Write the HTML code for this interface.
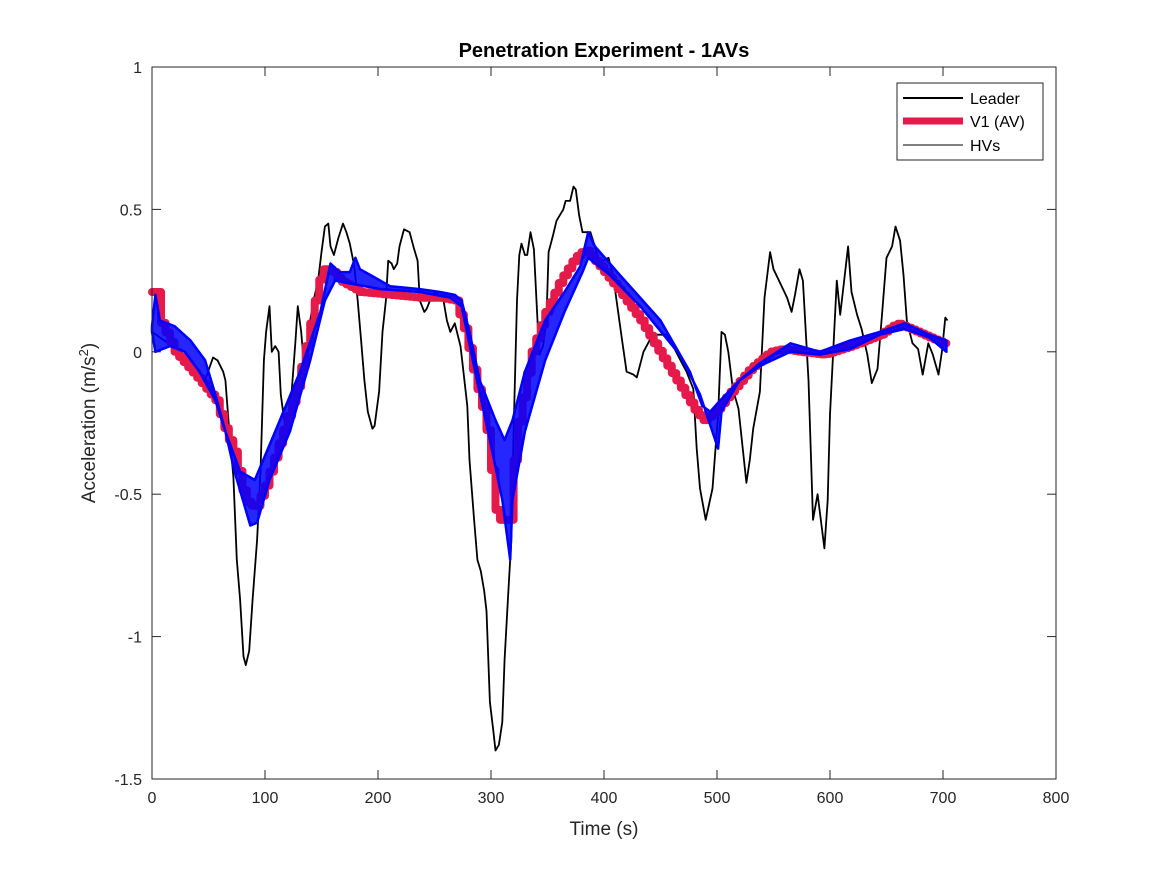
<!DOCTYPE html>
<html><head><meta charset="utf-8"><style>
body{margin:0;background:#fff;}
svg{display:block;font-family:"Liberation Sans",Arial,sans-serif;}
</style></head><body>
<svg id="chart" width="1167" height="875" viewBox="0 0 1167 875">
<rect width="1167" height="875" fill="#fff"/>
<text x="604" y="57" text-anchor="middle" font-size="20" font-weight="bold" fill="#000">Penetration Experiment - 1AVs</text>
<g id="plot"></g>
<g id="axes"></g>
<text x="604" y="835" text-anchor="middle" font-size="19" fill="#262626">Time (s)</text>
<text transform="translate(95,423) rotate(-90)" text-anchor="middle" font-size="19" fill="#262626">Acceleration (m/s<tspan font-size="13" dy="-7">2</tspan><tspan dy="7">)</tspan></text>
<g>
<rect x="897" y="83" width="146" height="77" fill="#fff" stroke="#262626" stroke-width="1"/>
<g><line x1="903" y1="98" x2="963" y2="98" stroke="#000" stroke-width="2"/><text x="970" y="104" font-size="16">Leader</text></g>
<g><line x1="903" y1="121" x2="963" y2="121" stroke="#e6194b" stroke-width="7"/><text x="970" y="127" font-size="16">V1 (AV)</text></g>
<g><line x1="903" y1="145" x2="963" y2="145" stroke="#000" stroke-width="1"/><text x="970" y="151" font-size="16">HVs</text></g>
</g>
</svg>
<script>
const xTicks=[0,100,200,300,400,500,600,700,800];
const yTicks=[1,0.5,0,-0.5,-1,-1.5];
const yTickLabels=["1","0.5","0","-0.5","-1","-1.5"];
const leaderT=[0,25,47,54,58,63,65,69,72,75,78,81,83,86,89,93,96,99,101,104,106,109,112,114,117,121,127,129,132,135,140,143,147,150,153,156,158,161,165,169,172,175,179,182,185,188,191,195,197,201,204,207,209,212,214,217,219,223,228,232,235,237,241,243,246,250,254,258,261,264,268,273,275,279,281,285,288,291,294,296,299,302,304,307,310,312,315,318,320,323,325,327,330,332,335,338,342,343,346,349,351,355,358,361,364,366,370,373,375,378,381,388,395,399,404,408,416,420,426,429,435,443,456,465,473,479,482,485,490,496,501,504,507,510,514,519,526,529,532,538,542,547,550,556,562,566,569,573,576,581,585,589,595,598,600,606,609,616,619,624,628,633,637,642,646,650,655,658,662,665,668,673,678,682,687,691,696,699,702,704];
const leaderV=[0.07,0.00,-0.10,-0.02,-0.03,-0.07,-0.10,-0.31,-0.44,-0.73,-0.87,-1.07,-1.10,-1.05,-0.87,-0.66,-0.42,-0.03,0.07,0.16,0.00,0.02,0.00,-0.15,-0.24,-0.28,0.04,0.16,0.07,-0.07,0.11,0.18,0.25,0.35,0.44,0.45,0.37,0.34,0.40,0.45,0.42,0.38,0.30,0.18,0.04,-0.10,-0.21,-0.27,-0.26,-0.14,0.07,0.18,0.32,0.31,0.29,0.31,0.37,0.43,0.42,0.36,0.32,0.18,0.14,0.15,0.18,0.21,0.20,0.18,0.11,0.07,0.10,0.02,-0.05,-0.19,-0.38,-0.59,-0.73,-0.77,-0.84,-0.91,-1.23,-1.33,-1.40,-1.38,-1.30,-1.08,-0.87,-0.66,-0.28,0.18,0.34,0.38,0.34,0.34,0.42,0.36,0.04,-0.01,0.02,0.11,0.35,0.41,0.46,0.48,0.50,0.53,0.53,0.58,0.57,0.48,0.42,0.42,0.33,0.32,0.33,0.27,0.04,-0.07,-0.08,-0.09,0.00,0.06,0.06,-0.01,-0.07,-0.13,-0.34,-0.48,-0.59,-0.48,-0.22,0.07,0.06,0.00,-0.13,-0.20,-0.46,-0.38,-0.27,-0.14,0.19,0.35,0.29,0.24,0.19,0.14,0.20,0.29,0.25,-0.10,-0.59,-0.50,-0.69,-0.52,-0.22,0.25,0.13,0.37,0.21,0.13,0.08,-0.01,-0.11,-0.06,0.13,0.33,0.37,0.44,0.39,0.27,0.11,0.03,0.01,-0.08,0.03,-0.01,-0.08,0.00,0.12,0.11];
const avT=[0,4,7,20,42,56,65,72,82,91,100,113,127,135,144,150,158,166,184,211,237,255,268,277,286,295,305,311,317,321,335,348,361,374,383,396,414,432,450,467,481,488,498,512,529,547,558,573,594,618,644,659,671,688,700,703];
const avV=[0.21,0.21,0.11,0.00,-0.10,-0.17,-0.28,-0.35,-0.52,-0.55,-0.47,-0.31,-0.14,0.00,0.18,0.29,0.29,0.25,0.21,0.20,0.19,0.19,0.18,0.07,-0.10,-0.24,-0.59,-0.59,-0.59,-0.31,-0.01,0.14,0.25,0.33,0.36,0.30,0.21,0.11,-0.01,-0.12,-0.21,-0.24,-0.21,-0.14,-0.06,0.00,0.01,0.00,-0.01,0.02,0.06,0.10,0.08,0.05,0.03,-0.01];
const hvUpT=[0,3,7,20,34,47,56,65,78,91,109,131,149,158,166,175,180,184,193,211,237,255,268,274,281,290,304,312,319,330,348,365,379,386,392,414,450,476,487,494,503,520,538,565,591,618,644,666,688,703];
const hvUpV=[0.09,0.20,0.11,0.09,0.04,-0.03,-0.15,-0.28,-0.42,-0.45,-0.28,-0.07,0.14,0.31,0.28,0.28,0.33,0.29,0.27,0.23,0.22,0.21,0.20,0.18,0.07,-0.10,-0.24,-0.31,-0.24,-0.07,0.11,0.21,0.30,0.42,0.37,0.27,0.11,-0.07,-0.19,-0.21,-0.17,-0.10,-0.04,0.03,0.00,0.04,0.07,0.10,0.06,0.04];
const hvLoT=[0,3,16,29,42,56,65,73,87,93,104,122,140,153,162,175,202,237,264,274,286,299,310,317,319,330,348,365,381,386,405,432,467,485,501,504,520,538,565,591,618,644,666,688,703];
const hvLoV=[0.07,0.00,0.02,0.00,-0.07,-0.17,-0.28,-0.42,-0.61,-0.60,-0.45,-0.28,-0.03,0.18,0.25,0.24,0.22,0.21,0.19,0.16,-0.07,-0.31,-0.52,-0.73,-0.52,-0.28,-0.03,0.14,0.28,0.33,0.27,0.16,-0.01,-0.15,-0.34,-0.21,-0.10,-0.05,0.00,-0.01,0.01,0.06,0.08,0.05,0.00];

const NS='http://www.w3.org/2000/svg';
const X0=152,X1=1056,Y0=67,Y1=779,XMAX=800,YMIN=-1.5,YMAX=1;
const xs=t=>X0+(t/XMAX)*(X1-X0);
const ys=v=>Y0+(YMAX-v)/(YMAX-YMIN)*(Y1-Y0);
function interp(T,V,t){if(t<=T[0])return V[0];for(let i=1;i<T.length;i++){if(t<=T[i]){const f=(t-T[i-1])/(T[i]-T[i-1]);return V[i-1]+f*(V[i]-V[i-1]);}}return V[V.length-1];}
const plot=document.getElementById('plot');
const axes=document.getElementById('axes');
function mk(tag,attrs,parent){const e=document.createElementNS(NS,tag);for(const k in attrs)e.setAttribute(k,attrs[k]);parent.appendChild(e);return e;}

let d=leaderT.map((t,i)=>(i?'L':'M')+xs(t).toFixed(1)+','+ys(leaderV[i]).toFixed(1)).join('');
const lead=mk('path',{d:d,fill:'none',stroke:'#000','stroke-width':1.8,'stroke-linejoin':'round'},plot);



let sd='';const step=4;let prev=null;
for(let t=0;t<=avT[avT.length-1];t+=step){const v=interp(avT,avV,t);if(prev===null)sd+='M'+xs(t)+','+ys(v);else sd+='L'+xs(t)+','+ys(prev)+'L'+xs(t)+','+ys(v);prev=v;}
sd+='L'+xs(avT[avT.length-1])+','+ys(prev);
const av=mk('path',{d:sd,fill:'none',stroke:'#e6194b','stroke-width':8,'stroke-linejoin':'round','stroke-linecap':'round'},plot);



let bd=hvUpT.map((t,i)=>(i?'L':'M')+xs(t).toFixed(1)+','+ys(hvUpV[i]).toFixed(1)).join('');
for(let i=hvLoT.length-1;i>=0;i--)bd+='L'+xs(hvLoT[i]).toFixed(1)+','+ys(hvLoV[i]).toFixed(1);
bd+='Z';
const band=mk('path',{d:bd,fill:'#0000ff','fill-opacity':0.85,stroke:'#0000ff','stroke-width':2.5,'stroke-linejoin':'round'},plot);



const box=mk('rect',{x:X0,y:Y0,width:X1-X0,height:Y1-Y0,fill:'none',stroke:'#262626','stroke-width':1},axes);


xTicks.forEach(t=>{const x=xs(t);
mk('line',{x1:x,y1:Y1,x2:x,y2:Y1-9,stroke:'#262626'},axes);
mk('line',{x1:x,y1:Y0,x2:x,y2:Y0+9,stroke:'#262626'},axes);
const tx=mk('text',{x:x,y:Y1+24,'text-anchor':'middle','font-size':16,fill:'#262626'},axes);tx.textContent=t;

});
yTicks.forEach((v,i)=>{const y=ys(v);
mk('line',{x1:X0,y1:y,x2:X0+9,y2:y,stroke:'#262626'},axes);
mk('line',{x1:X1,y1:y,x2:X1-9,y2:y,stroke:'#262626'},axes);
const tx=mk('text',{x:X0-10,y:y+6,'text-anchor':'end','font-size':16,fill:'#262626'},axes);tx.textContent=yTickLabels[i];

});
</script>
</body></html>
